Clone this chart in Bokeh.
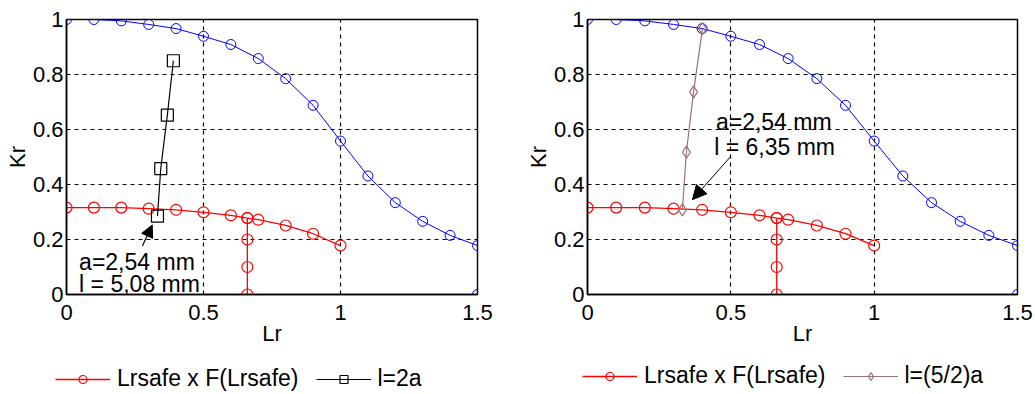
from bokeh.plotting import figure
from bokeh.layouts import row, column
from bokeh.models import FixedTicker, Legend, LegendItem, Label, Arrow, NormalHead, Range1d
from bokeh.embed import file_html
from bokeh.resources import INLINE

# ---- data ----
x_ticks = [0, 0.5, 1, 1.5]
y_ticks = [0, 0.2, 0.4, 0.6, 0.8, 1.0]

lr_fad = [0, 0.1, 0.2, 0.3, 0.4, 0.5, 0.6, 0.7, 0.8, 0.9, 1.0, 1.1, 1.2, 1.3, 1.4, 1.5, 1.5]
kr_fad = [1.0, 1.0, 0.995, 0.982, 0.967, 0.939, 0.909, 0.858, 0.785, 0.688, 0.558, 0.431, 0.334, 0.266, 0.215, 0.178, 0.0]

lr_safe = [0, 0.1, 0.2, 0.3, 0.4, 0.5, 0.6, 0.66, 0.7, 0.8, 0.9, 1.0]
kr_safe = [0.316, 0.316, 0.316, 0.312, 0.308, 0.299, 0.288, 0.278, 0.272, 0.251, 0.221, 0.178]
lr_cut = [0.66, 0.66, 0.66, 0.66]
kr_cut = [0.278, 0.2, 0.1, 0.0]

lr_2a = [0.332, 0.344, 0.368, 0.390]
kr_2a = [0.285, 0.458, 0.652, 0.850]

lr_52a = [0.331, 0.345, 0.370, 0.401]
kr_52a = [0.308, 0.518, 0.737, 0.967]

safe_label = "Lrsafe x F(Lrsafe)"
left_label = "l=2a"
right_label = "l=(5/2)a"
left_note = ["a=2,54 mm", "l = 5,08 mm"]
right_note = ["a=2,54 mm", "l = 6,35 mm"]

FONT = "Liberation Sans"
FS = "22px"
FS2 = "23px"
BLUE = "#0000ff"
RED = "#ff0000"
BROWN = "#9c7272"

SAFE_LINE = dict(color=RED, line_width=1.3)
SAFE_MARK = dict(marker="circle", size=11, line_color=RED, fill_alpha=0, line_width=1.2)
SQ_LINE = dict(color="black", line_width=1.2)
SQ_MARK = dict(marker="square", size=12, line_color="black", fill_alpha=0, line_width=1.2)
DI_LINE = dict(color=BROWN, line_width=1.2)
DI_MARK = dict(marker="diamond", size=12, line_color=BROWN, fill_alpha=0, line_width=1.2)


def panel(w, h, bl, br, bt, bb):
    p = figure(width=w, height=h, min_border_left=bl, min_border_right=br,
               min_border_top=bt, min_border_bottom=bb, output_backend="svg",
               toolbar_location=None, x_range=Range1d(0, 1.5), y_range=Range1d(0, 1))
    p.outline_line_color = "black"
    p.outline_line_width = 1.5
    p.background_fill_color = "white"
    p.border_fill_color = "white"
    for ax in (p.xaxis[0], p.yaxis[0]):
        ax.axis_line_color = "black"
        ax.axis_line_width = 1.5
        ax.major_tick_line_color = None
        ax.minor_tick_line_color = None
        ax.major_tick_out = 0
        ax.major_tick_in = 0
        ax.minor_tick_out = 0
        ax.minor_tick_in = 0
        ax.major_label_text_font = FONT
        ax.major_label_text_font_size = FS
        ax.major_label_text_color = "black"
        ax.axis_label_text_font = FONT
        ax.axis_label_text_font_size = FS
        ax.axis_label_text_font_style = "normal"
        ax.axis_label_text_color = "black"
    p.xaxis.ticker = FixedTicker(ticks=x_ticks)
    p.yaxis.ticker = FixedTicker(ticks=y_ticks)
    p.xaxis.major_label_overrides = {0: "0", 0.5: "0.5", 1: "1", 1.5: "1.5"}
    p.yaxis.major_label_overrides = {0: "0", 0.2: "0.2", 0.4: "0.4", 0.6: "0.6", 0.8: "0.8", 1: "1"}
    p.xaxis.axis_label = "Lr"
    p.yaxis.axis_label = "Kr"
    p.xaxis.major_label_standoff = 10
    p.yaxis.major_label_standoff = 3
    p.xaxis.axis_label_standoff = -2
    p.yaxis.axis_label_standoff = 0
    p.grid.grid_line_color = "black"
    p.grid.grid_line_dash = "4 4"
    p.grid.grid_line_width = 1.2

    p.line(lr_fad, kr_fad, color=BLUE, line_width=1)
    p.scatter(lr_fad, kr_fad, marker="circle", size=10, line_color=BLUE, fill_alpha=0, line_width=1)

    p.line(lr_safe, kr_safe, **SAFE_LINE)
    p.scatter(lr_safe, kr_safe, **SAFE_MARK)
    p.line(lr_cut, kr_cut, **SAFE_LINE)
    p.scatter(lr_cut, kr_cut, **SAFE_MARK)
    return p


def legend_strip(w, h, other_x, other_y, other_line, other_mark, other_label, lx, ly):
    # a thin strip under each chart that only holds the legend; its renderers
    # lie outside the strip's ranges, so only the legend samples show
    q = figure(width=w, height=h, min_border=0, output_backend="svg", toolbar_location=None,
               x_range=Range1d(5, 6), y_range=Range1d(5, 6),
               x_axis_location=None, y_axis_location=None)
    q.outline_line_color = None
    q.grid.visible = False
    q.background_fill_color = "white"
    q.border_fill_color = "white"
    s1 = q.line(lr_safe, kr_safe, **SAFE_LINE)
    s2 = q.scatter(lr_safe, kr_safe, **SAFE_MARK)
    o1 = q.line(other_x, other_y, **other_line)
    o2 = q.scatter(other_x, other_y, **other_mark)
    lg = Legend(items=[LegendItem(label=safe_label, renderers=[s1, s2]),
                       LegendItem(label=other_label, renderers=[o1, o2])],
                location=(lx, ly), orientation="horizontal",
                glyph_width=55, glyph_height=20, label_standoff=7, spacing=17,
                padding=0, margin=0, border_line_alpha=0, background_fill_alpha=0,
                label_text_font=FONT, label_text_font_size=FS2, label_text_color="black")
    q.add_layout(lg, "center")
    return q


# ---- left chart ----
p1 = panel(520, 363, 66, 43, 17, 66)
p1.line(lr_2a, kr_2a, **SQ_LINE)
p1.scatter(lr_2a, kr_2a, **SQ_MARK)
p1.add_layout(Label(x=0.046, y=0.117, text=left_note[0], text_font=FONT, text_font_size=FS2,
                    text_baseline="middle", text_color="black"))
p1.add_layout(Label(x=0.046, y=0.037, text=left_note[1], text_font=FONT, text_font_size=FS2,
                    text_baseline="middle", text_color="black"))
p1.add_layout(Arrow(x_start=0.277, y_start=0.176, x_end=0.313, y_end=0.253, line_width=1.2,
                    end=NormalHead(size=12, fill_color="black", line_color="black")))
q1 = legend_strip(520, 31, lr_2a, kr_2a, SQ_LINE, SQ_MARK, left_label, 55, 2)

# ---- right chart ----
p2 = panel(515, 363, 67, 18, 19, 69)
p2.line(lr_52a, kr_52a, **DI_LINE)
p2.scatter(lr_52a, kr_52a, **DI_MARK)
p2.add_layout(Label(x=0.448, y=0.627, text=right_note[0], text_font=FONT, text_font_size=FS2,
                    text_baseline="middle", text_color="black"))
p2.add_layout(Label(x=0.442, y=0.536, text=right_note[1], text_font=FONT, text_font_size=FS2,
                    text_baseline="middle", text_color="black"))
p2.add_layout(Arrow(x_start=0.498, y_start=0.50, x_end=0.366, y_end=0.345, line_width=1,
                    end=NormalHead(size=14, fill_color="black", line_color="black")))
q2 = legend_strip(515, 31, lr_52a, kr_52a, DI_LINE, DI_MARK, right_label, 62, 5)

layout = column(row(p1, p2, spacing=0), row(q1, q2, spacing=0), spacing=0)
open("out.html", "w").write(file_html(layout, INLINE))
